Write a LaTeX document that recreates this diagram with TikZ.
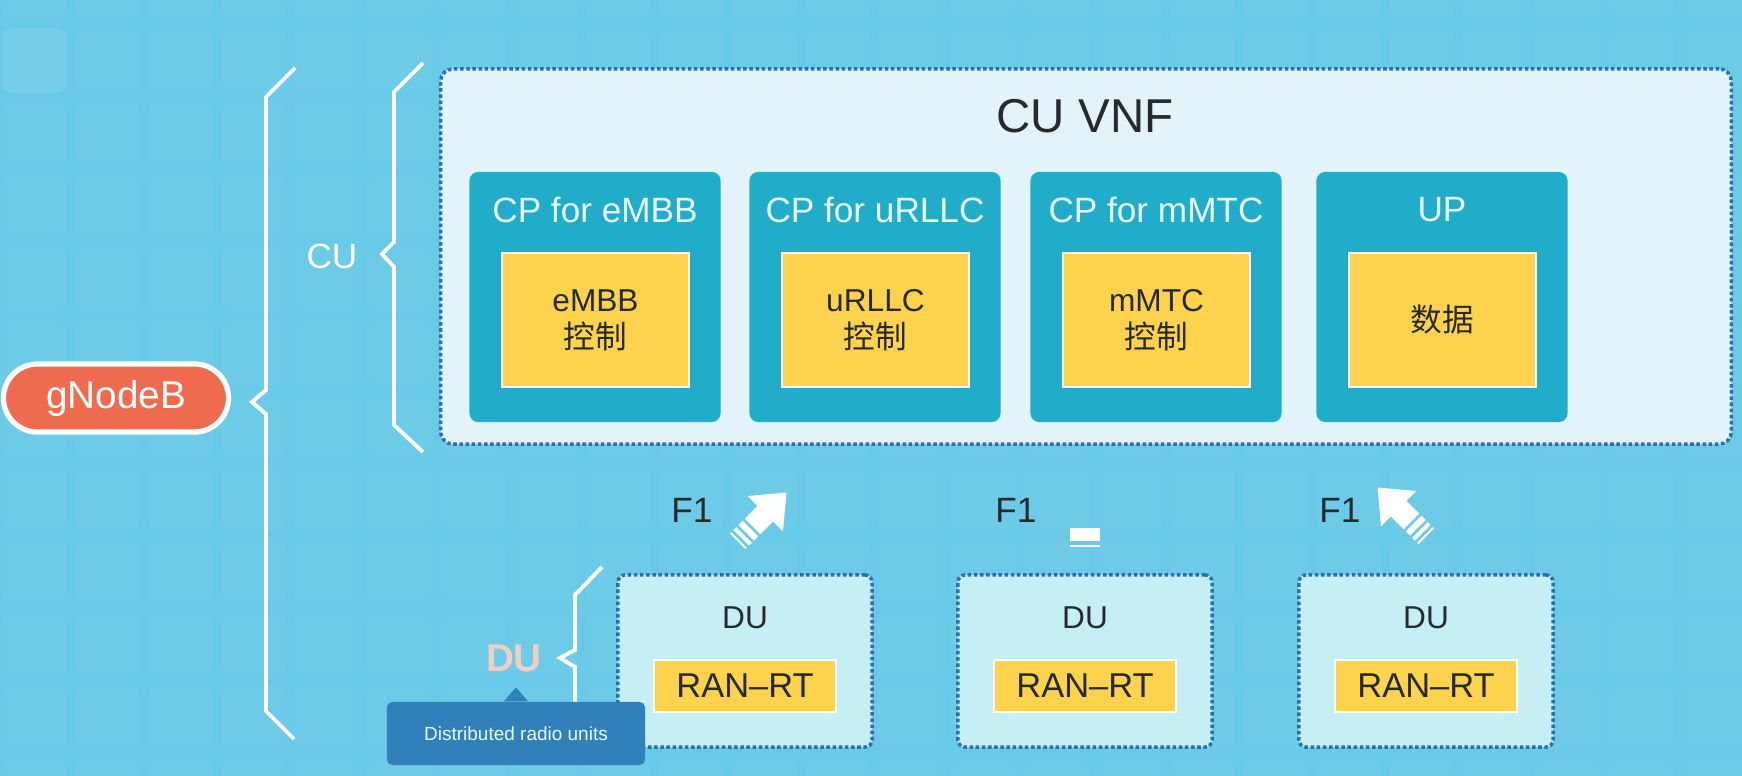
\documentclass[tikz,border=0pt]{standalone}
\usepackage{fontspec}
\setmainfont{Liberation Sans}
\newfontfamily\cjk{Noto Sans CJK SC}

\definecolor{bgblue}{HTML}{68CAE7}
\definecolor{vnffill}{HTML}{E2F4FA}
\definecolor{dotblue}{HTML}{2A6FAE}
\definecolor{cpteal}{HTML}{21ACC9}
\definecolor{cpyellow}{HTML}{FDD34E}
\definecolor{dufill}{HTML}{C6EFF5}
\definecolor{nodered}{HTML}{EE6B4F}
\definecolor{tipblue}{HTML}{3180BA}
\definecolor{darktext}{HTML}{262A2C}
\definecolor{ghostdu}{HTML}{F3CDC2}
\definecolor{softwhite}{HTML}{E8FBFF}

\tikzset{
  dotline/.style={draw=dotblue, line width=1pt, dash pattern=on 1pt off 0.75pt},
  vnfbox/.style={dotline, fill=vnffill, rounded corners=3.5pt, minimum width=12.9cm, minimum height=3.75cm, inner sep=0},
  cpbox/.style={fill=cpteal, rounded corners=2.5pt, minimum width=2.51cm, minimum height=2.5cm, inner sep=0},
  cptitle/.style={text=softwhite, font=\fontsize{10}{12}\selectfont},
  cpinner/.style={fill=cpyellow, draw=white, line width=0.6pt, minimum width=1.87cm, minimum height=1.34cm,
    inner sep=0, align=center, text=darktext, font=\fontsize{9}{10.5}\selectfont},
  dubox/.style={dotline, fill=dufill, rounded corners=2pt, minimum width=2.54cm, minimum height=1.72cm, inner sep=0},
  dutitle/.style={text=darktext, font=\fontsize{9}{11}\selectfont},
  ranrt/.style={fill=cpyellow, draw=white, line width=0.5pt, minimum width=1.82cm, minimum height=0.52cm,
    inner sep=0, text=darktext, font=\fontsize{9.8}{11}\selectfont},
  fone/.style={text=darktext, font=\fontsize{10}{12}\selectfont},
  brace/.style={draw=white, line width=1.1pt},
  pics/fonearrow/.style={code={
    \fill[white] (22,-11) -- (40,-11) -- (40,-25) -- (70,0) -- (40,25) -- (40,11) -- (22,11) -- cycle;
    \fill[white] (13,-11) rectangle (19,11);
    \fill[white] (6,-11) rectangle (10,11);
    \fill[white] (1,-11) rectangle (3,11);
  }}
}

\begin{document}
\begin{tikzpicture}[x=0.01cm, y=-0.01cm]
  \useasboundingbox (0,0) rectangle (1742,776);
  \clip (0,0) rectangle (1742,776);

  % tiled background
  \fill[bgblue] (0,0) rectangle (1742,776);
  \foreach \i in {0,...,23}
    \foreach \j in {0,...,11}
      \fill[white, opacity=0.035, rounded corners=3pt] ({2+73*\i},{-45+73*\j}) rectangle +(65,65);
  \fill[white, opacity=0.07, rounded corners=3pt] (2,28) rectangle +(65,65);

  % gNodeB
  \node[fill=nodered, draw=white, line width=1.5pt, rounded corners=0.34cm, minimum width=2.25cm,
    minimum height=0.68cm, text=white, font=\fontsize{11}{13}\selectfont] (gnb) at (116,398) {gNodeB};
  \draw[brace] (295,68) -- (266,97) -- (266,390) -- (252,402) -- (266,414) -- (266,711) -- (294,739);

  % CU
  \node[text=white, font=\fontsize{10}{12}\selectfont] (culabel) at (332,256) {CU};
  \draw[brace] (423,63) -- (394,92) -- (394,242) -- (382,254) -- (394,267) -- (394,425) -- (423,452);

  \node[vnfbox] (vnf) at (1086,256.5) {};
  \node[text=darktext, font=\fontsize{13.5}{15}\selectfont] (vnftitle) at (1085,116) {CU VNF};

  \node[cpbox] (cp1) at (595,297) {};
  \node[cptitle] (cp1title) at (595,210) {CP for eMBB};
  \node[cpinner] (cp1in) at (595.5,320) {eMBB\\{\cjk 控制}};

  \node[cpbox] (cp2) at (875,297) {};
  \node[cptitle] (cp2title) at (875,210) {CP for uRLLC};
  \node[cpinner] (cp2in) at (875.5,320) {uRLLC\\{\cjk 控制}};

  \node[cpbox] (cp3) at (1156,297) {};
  \node[cptitle] (cp3title) at (1156,210) {CP for mMTC};
  \node[cpinner] (cp3in) at (1156.5,320) {mMTC\\{\cjk 控制}};

  \node[cpbox] (up) at (1442,297) {};
  \node[cptitle] (uptitle) at (1442,210) {UP};
  \node[cpinner] (upin) at (1442.5,320) {\cjk 数据};

  % F1 interfaces
  \node[fone] (f1a) at (692,510) {F1};
  \pic[rotate=45] at (737,542) {fonearrow};
  \node[fone] (f1b) at (1016,510) {F1};
  \fill[white] (1070,528) rectangle (1100,541);
  \fill[white] (1070,544.5) rectangle (1100,547);
  \node[fone] (f1c) at (1340,510) {F1};
  \pic[rotate=135] at (1427,537) {fonearrow};

  % DU
  \draw[brace] (602,567) -- (575,595) -- (575,650) -- (560,658) -- (575,667) -- (575,755);
  \node[text=ghostdu, font=\bfseries\fontsize{11}{13}\selectfont] (dughost) at (514,658) {DU};

  \node[dubox] (du1) at (745,661) {};
  \node[dutitle] (du1title) at (745,618) {DU};
  \node[ranrt] (rt1) at (745,686) {RAN--RT};

  \node[dubox] (du2) at (1085,661) {};
  \node[dutitle] (du2title) at (1085,618) {DU};
  \node[ranrt] (rt2) at (1085,686) {RAN--RT};

  \node[dubox] (du3) at (1426,661) {};
  \node[dutitle] (du3title) at (1426,618) {DU};
  \node[ranrt] (rt3) at (1426,686) {RAN--RT};

  % tooltip
  \node[fill=tipblue, rounded corners=1.5pt, minimum width=2.58cm, minimum height=0.63cm, inner sep=0,
    text=softwhite, font=\fontsize{5.4}{6.5}\selectfont] (tip) at (516,733.5) {Distributed radio units};
  \fill[tipblue] ([xshift=-0.12cm]tip.north) -- ([yshift=0.14cm]tip.north) -- ([xshift=0.12cm]tip.north) -- cycle;
\end{tikzpicture}
\end{document}
